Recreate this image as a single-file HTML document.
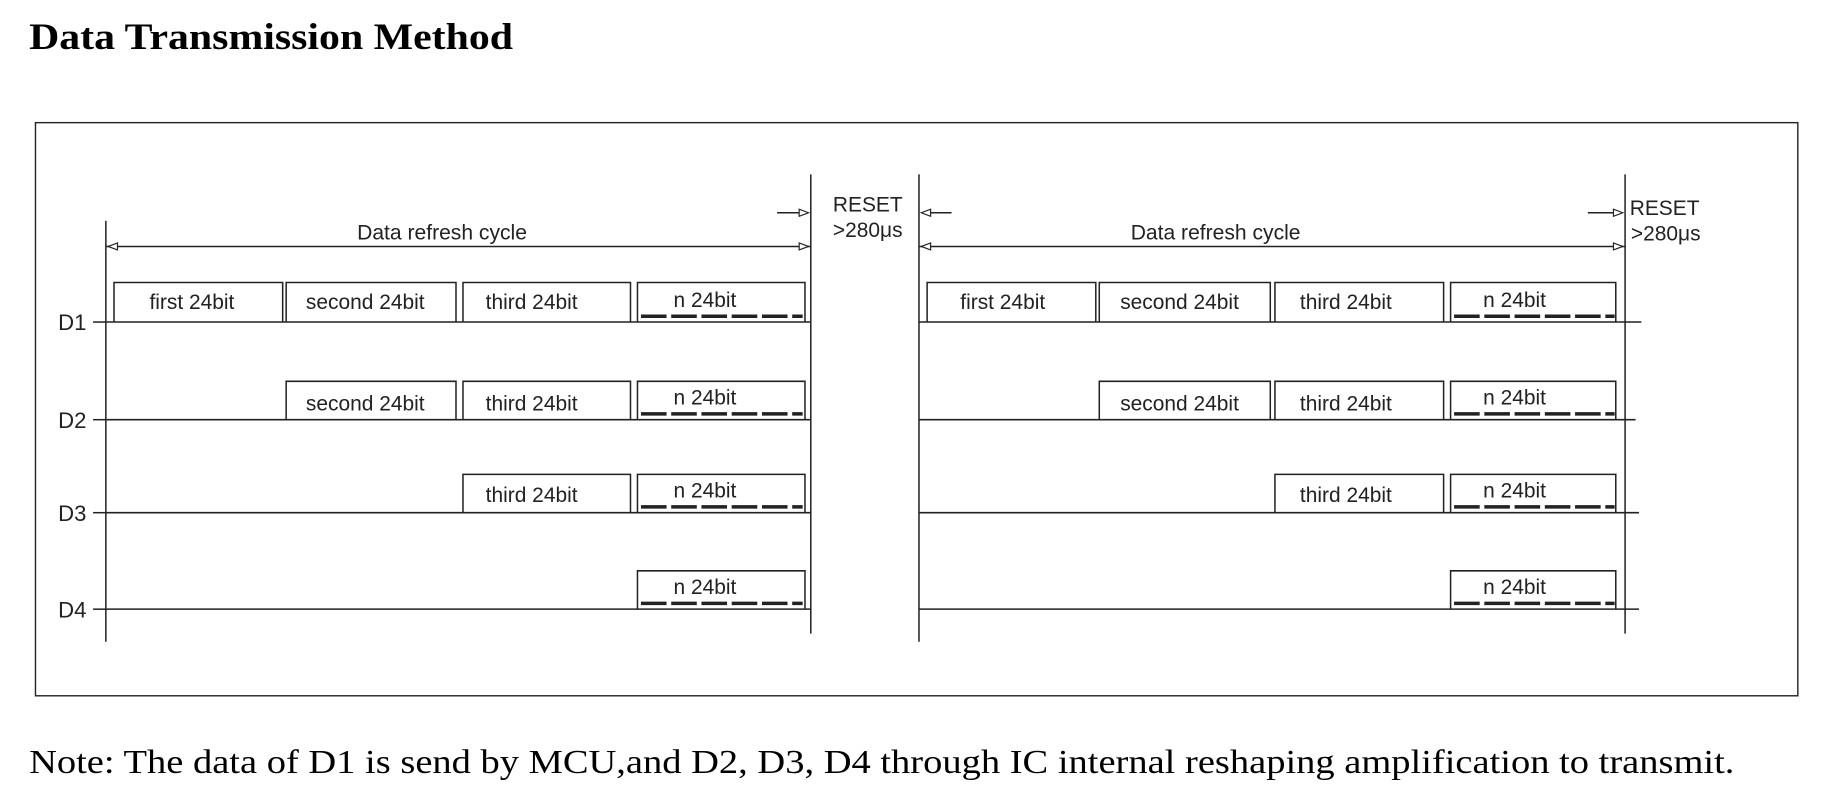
<!DOCTYPE html>
<html><head><meta charset="utf-8"><style>
html,body{margin:0;padding:0;background:#fff;width:1824px;height:801px;overflow:hidden}
svg{display:block}
</style></head><body>
<svg width="1824" height="801" viewBox="0 0 1568 689" preserveAspectRatio="none" xmlns="http://www.w3.org/2000/svg">
<text x="25" y="42" font-family="Liberation Serif, serif" font-weight="bold" font-size="32" textLength="416" lengthAdjust="spacingAndGlyphs">Data Transmission Method</text>
<rect x="30.5" y="105.5" width="1515" height="493" fill="none" stroke="#222" stroke-width="1.2"/>
<text x="25" y="665" font-family="Liberation Serif, serif" font-size="29" textLength="1466" lengthAdjust="spacingAndGlyphs">Note: The data of D1 is send by MCU,and D2, D3, D4 through IC internal reshaping amplification to transmit.</text>
<g font-family="Liberation Sans, sans-serif" font-size="18" fill="#222" stroke="#222">
<g stroke-width="1.3" fill="none">
<line x1="91" y1="190" x2="91" y2="552"/>
<line x1="697" y1="150" x2="697" y2="545"/>
<line x1="91" y1="212" x2="697" y2="212"/>
<line x1="668" y1="183" x2="695" y2="183"/>
<line x1="91" y1="277" x2="697" y2="277"/>
<line x1="91" y1="361" x2="697" y2="361"/>
<line x1="91" y1="441" x2="697" y2="441"/>
<line x1="91" y1="524" x2="697" y2="524"/>
<line x1="80" y1="277" x2="91" y2="277"/><line x1="80" y1="361" x2="91" y2="361"/><line x1="80" y1="441" x2="91" y2="441"/><line x1="80" y1="524" x2="91" y2="524"/>
<path d="M98 277V243H243V277M246 277V243H392V277M398 277V243H542V277M548 277V243H692V277"/>
<path d="M246 361V328H392V361M398 361V328H542V361M548 361V328H692V361"/>
<path d="M398 441V408H542V441M548 441V408H692V441"/>
<path d="M548 524V491H692V524"/>
<line x1="790" y1="150" x2="790" y2="552"/>
<line x1="1397" y1="150" x2="1397" y2="545"/>
<line x1="790" y1="212" x2="1397" y2="212"/>
<line x1="792" y1="183" x2="818" y2="183"/>
<line x1="1365" y1="183" x2="1395" y2="183"/>
<line x1="790" y1="277" x2="1411" y2="277"/>
<line x1="790" y1="361" x2="1406" y2="361"/>
<line x1="790" y1="441" x2="1409" y2="441"/>
<line x1="790" y1="524" x2="1409" y2="524"/>
<path d="M797 277V243H942V277M945 277V243H1092V277M1096 277V243H1241V277M1247 277V243H1389V277"/>
<path d="M945 361V328H1092V361M1096 361V328H1241V361M1247 361V328H1389V361"/>
<path d="M1096 441V408H1241V441M1247 441V408H1389V441"/>
<path d="M1247 524V491H1389V524"/>
</g>
<g stroke-width="3" stroke-dasharray="22,4">
<line x1="551" y1="272" x2="690" y2="272"/><line x1="551" y1="356" x2="690" y2="356"/><line x1="551" y1="436" x2="690" y2="436"/><line x1="551" y1="519" x2="690" y2="519"/>
<line x1="1250" y1="272" x2="1388" y2="272"/><line x1="1250" y1="356" x2="1388" y2="356"/><line x1="1250" y1="436" x2="1388" y2="436"/><line x1="1250" y1="519" x2="1388" y2="519"/>
</g>
<g stroke-width="1" fill="#fff">
<path d="M93 212l8-3v6z"/><path d="M695 212l-8-3v6z"/><path d="M695 183l-8-3v6z"/>
<path d="M792 212l8-3v6z"/><path d="M1395 212l-8-3v6z"/><path d="M792 183l8-3v6z"/><path d="M1395 183l-8-3v6z"/>
</g>
<g stroke="none">
<text x="380" y="206" text-anchor="middle" textLength="146" lengthAdjust="spacingAndGlyphs">Data refresh cycle</text>
<text x="1045" y="206" text-anchor="middle" textLength="146" lengthAdjust="spacingAndGlyphs">Data refresh cycle</text>
<text x="716" y="182">RESET</text><text x="716" y="204">&gt;280μs</text>
<text x="1401" y="185">RESET</text><text x="1402" y="207">&gt;280μs</text>
<text x="50" y="284" font-size="19">D1</text><text x="50" y="368" font-size="19">D2</text><text x="50" y="448" font-size="19">D3</text><text x="50" y="531" font-size="19">D4</text>
<g text-anchor="middle">
<text x="165" y="266">first 24bit</text><text x="314" y="266">second 24bit</text><text x="457" y="266">third 24bit</text><text x="606" y="264">n  24bit</text>
<text x="314" y="353">second 24bit</text><text x="457" y="353">third 24bit</text><text x="606" y="348">n  24bit</text>
<text x="457" y="432">third 24bit</text><text x="606" y="428">n  24bit</text>
<text x="606" y="511">n  24bit</text>
<text x="862" y="266">first 24bit</text><text x="1014" y="266">second 24bit</text><text x="1157" y="266">third 24bit</text><text x="1302" y="264">n 24bit</text>
<text x="1014" y="353">second 24bit</text><text x="1157" y="353">third 24bit</text><text x="1302" y="348">n 24bit</text>
<text x="1157" y="432">third 24bit</text><text x="1302" y="428">n 24bit</text>
<text x="1302" y="511">n 24bit</text>
</g>
</g>
</g>
</svg>
</body></html>
